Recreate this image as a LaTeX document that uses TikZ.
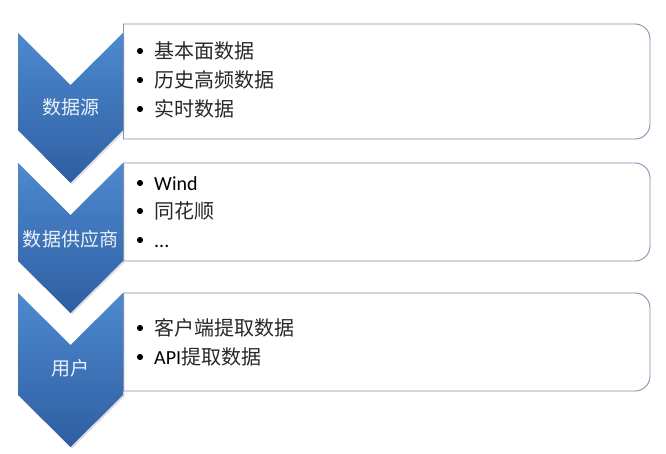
\documentclass[tikz,border=0pt]{standalone}
\usepackage{fontspec}
\setmainfont{Carlito}
\newfontfamily\cjk{Noto Sans CJK SC}
\usetikzlibrary{shadows}
\definecolor{chevtop}{RGB}{78,137,206}
\definecolor{chevbot}{RGB}{46,94,162}
\definecolor{boxline}{RGB}{128,146,178}
\definecolor{labtext}{RGB}{236,242,250}
\definecolor{itemtext}{RGB}{40,40,40}
\newcommand\zh[1]{{\cjk #1}}
\tikzset{
  chev/.style={top color=chevtop, bottom color=chevbot, draw=none,
    drop shadow={opacity=0.25, shadow xshift=1.5pt, shadow yshift=-1.5pt}},
  panel/.style={draw=boxline, line width=0.9pt},
  chevlabel/.style={text=labtext, font=\fontsize{19}{22}\selectfont, inner sep=0pt},
  item/.style={anchor=west, text=itemtext, font=\fontsize{20}{24}\selectfont,
    inner sep=0pt, text height=17.5pt, text depth=2.5pt},
  dot/.style={fill=black}
}
\begin{document}
\begin{tikzpicture}[x=1pt,y=1pt]
\useasboundingbox (0,0) rectangle (666,453);
\fill[white] (0,0) rectangle (666,453);
% chevrons
\path[chev] (18,420) -- (70.5,368) -- (123,420) -- (123,323) -- (70.5,270) -- (18,323) -- cycle;
\path[chev] (18,290) -- (70.5,238) -- (123,290) -- (123,192) -- (70.5,140) -- (18,192) -- cycle;
\path[chev] (18,160) -- (70.5,108) -- (123,160) -- (123,58) -- (70.5,6) -- (18,58) -- cycle;
% panels
\draw[panel, rounded corners=15pt] (123,429) -- (650,429) -- (650,314) -- (123,314);
\draw[panel] (123,429) -- (123,314);
\draw[panel, rounded corners=15pt] (123,290) -- (650,290) -- (650,192) -- (123,192);
\draw[panel] (123,290) -- (123,192);
\draw[panel, rounded corners=15pt] (123,160) -- (650,160) -- (650,62) -- (123,62);
\draw[panel] (123,160) -- (123,62);
% chevron labels
\node[chevlabel] (l1) at (70.5,346) {\zh{数据源}};
\node[chevlabel] (l2) at (70.5,214) {\zh{数据供应商}};
\node[chevlabel] (l3) at (70.5,85) {\zh{用户}};
% items box 1
\fill[dot] (140,402) circle (3.1pt);
\node[item] (i11) at (154,402) {\zh{基本面数据}};
\fill[dot] (140,373) circle (3.1pt);
\node[item] (i12) at (154,373) {\zh{历史高频数据}};
\fill[dot] (140,344) circle (3.1pt);
\node[item] (i13) at (154,344) {\zh{实时数据}};
% items box 2
\fill[dot] (140,270) circle (3.1pt);
\node[item, text=black] (i21) at (154,270) {Wind};
\fill[dot] (140,242) circle (3.1pt);
\node[item] (i22) at (154,242) {\zh{同花顺}};
\fill[dot] (140,213) circle (3.1pt);
\node[item, text=black] (i23) at (154,213) {...};
% items box 3
\fill[dot] (140,125) circle (3.1pt);
\node[item] (i31) at (154,125) {\zh{客户端提取数据}};
\fill[dot] (140,96) circle (3.1pt);
\node[item] (i32) at (154,96) {\textcolor{black}{API}\zh{提取数据}};
\end{tikzpicture}
\end{document}
